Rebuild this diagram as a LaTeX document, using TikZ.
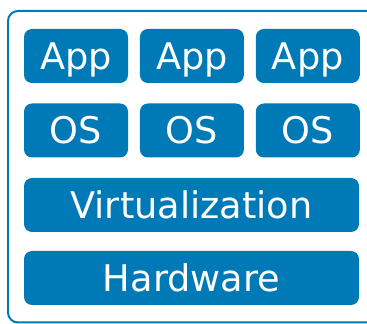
\documentclass[tikz,border=0pt]{standalone}
\usepackage{fontspec}
\setmainfont{DejaVu Sans}
\usetikzlibrary{positioning}
\definecolor{stackblue}{RGB}{0,122,182}
\tikzset{
  layer/.style={fill=stackblue, rounded corners=8pt, minimum height=54pt,
    inner sep=0pt, text height=26.8pt, text depth=0pt, text=white,
    font=\fontsize{36.7}{40}\selectfont},
  small layer/.style={layer, minimum width=104pt},
  wide layer/.style={layer, minimum width=335pt}
}
\begin{document}
\begin{tikzpicture}[x=1pt, y=1pt]
  \useasboundingbox (0,0) rectangle (367,324);
  \begin{scope}
    \clip (0,0) rectangle (367,324);
    \draw[stackblue, line width=2pt, rounded corners=10pt] (8,1.5) rectangle (390,313);
  \end{scope}
  % top rows
  \node[small layer] (app1) at (76,268) {App};
  \node[small layer, right=11.5pt of app1] (app2) {App};
  \node[small layer, right=11.5pt of app2] (app3) {App};
  \node[small layer] (os1) at (76,193.5) {OS};
  \node[small layer, right=11.5pt of os1] (os2) {OS};
  \node[small layer, right=11.5pt of os2] (os3) {OS};
  % full width rows
  \node[wide layer] (virt) at (191.5,119) {Virtualization};
  \node[wide layer] (hw) at (191.5,46) {Hardware};
\end{tikzpicture}
\end{document}
